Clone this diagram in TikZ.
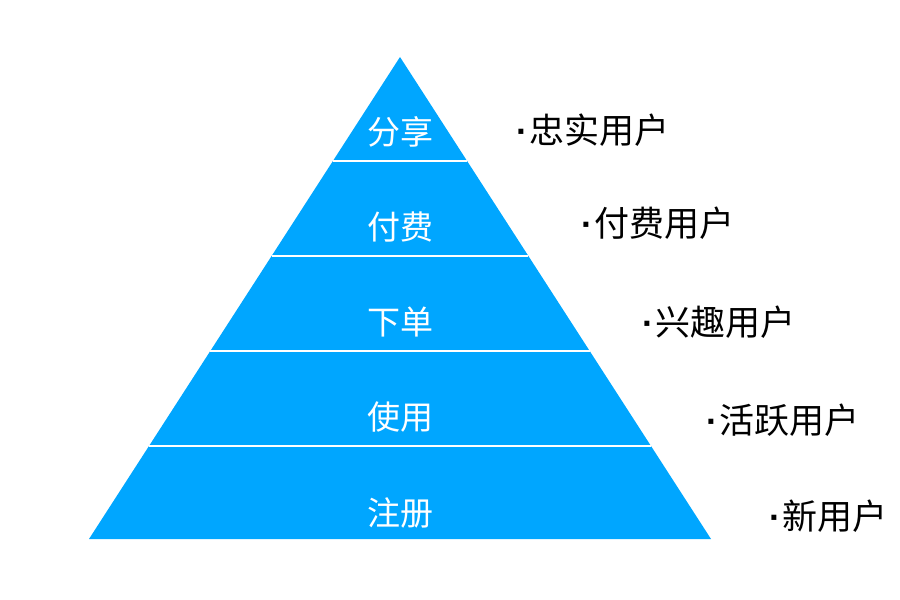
\documentclass[tikz,border=0pt]{standalone}
\usepackage{fontspec}
\setmainfont{Noto Sans CJK SC}
\newfontfamily\cjk{Noto Sans CJK SC}
\newfontfamily\dotfont{Liberation Sans Bold}
\usetikzlibrary{calc}
\definecolor{pyr}{RGB}{0,166,255}
\newcommand{\bul}{{\dotfont ·}\kern2bp}
\tikzset{
  inlabel/.style={text=white, font=\cjk\fontsize{33bp}{36bp}\selectfont, inner sep=0pt},
  outlabel/.style={text=black, font=\cjk\fontsize{35bp}{38bp}\selectfont, inner sep=0pt, anchor=west},
  divider/.style={draw=white, line width=1.2bp}
}
\begin{document}
\begin{tikzpicture}[x=1bp,y=-1bp]
\useasboundingbox (0,0) rectangle (900,600);
\coordinate (apex) at (400,57);
\coordinate (bl) at (89,539);
\coordinate (br) at (711,539);
\fill[pyr] (apex) -- (bl) -- (br) -- cycle;
\foreach \t in {0.2158,0.4129,0.6100,0.8071}{
  \draw[divider] ($(apex)!\t!(bl)$) -- ($(apex)!\t!(br)$);
}
\node[inlabel] (l1) at (400,132) {分享};
\node[inlabel] (l2) at (400,227) {付费};
\node[inlabel] (l3) at (400,322) {下单};
\node[inlabel] (l4) at (400,417) {使用};
\node[inlabel] (l5) at (400,513) {注册};
\node[outlabel] (r1) at (516,130) {\bul 忠实用户};
\node[outlabel] (r2) at (581,223) {\bul 付费用户};
\node[outlabel] (r3) at (642,322) {\bul 兴趣用户};
\node[outlabel] (r4) at (706,420) {\bul 活跃用户};
\node[outlabel] (r5) at (769,516) {\bul 新用户};
\end{tikzpicture}
\end{document}
